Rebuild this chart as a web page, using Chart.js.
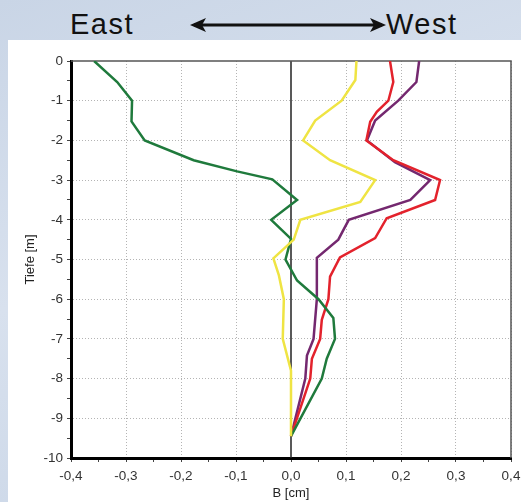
<!DOCTYPE html>
<html>
<head>
<meta charset="utf-8">
<script src="https://cdn.jsdelivr.net/npm/chart.js@4.4.0/dist/chart.umd.min.js"></script>
<style>
  html, body { margin: 0; padding: 0; }
  body {
    width: 521px; height: 502px; overflow: hidden; position: relative;
    background: linear-gradient(160deg, #c9d5e6 0%, #d8e1ee 45%, #c6d3e5 100%);
    font-family: "Liberation Sans", Arial, sans-serif;
  }
  #panel { position: absolute; left: 8px; top: 40px; width: 513px; height: 462px; background: #fff; }
  #chart { position: absolute; left: 0; top: 0; }
  .lbl { position: absolute; top: 7px; font-size: 29px; letter-spacing: 1.5px; color: #111; line-height: 34px; }
  #arrow { position: absolute; left: 188px; top: 15px; }
</style>
</head>
<body>
<div id="panel"></div>
<div class="lbl" style="left:70px">East</div>
<svg id="arrow" width="200" height="20" viewBox="0 0 200 20">
  <line x1="6" y1="10" x2="194" y2="10" stroke="#111" stroke-width="3"/>
  <path d="M2 10 L18 3 L14 10 L18 17 Z" fill="#111"/>
  <path d="M198 10 L182 3 L186 10 L182 17 Z" fill="#111"/>
</svg>
<div class="lbl" style="left:386px">West</div>
<canvas id="chart" width="521" height="502"></canvas>
<script>
// depth in m (negative = down), B in cm
var greenDepth = [0, -0.53, -1, -1.52, -2, -2.5, -2.78, -2.98, -3.5, -4.0, -4.48, -5, -5.53, -6.0, -6.47, -7.0, -7.5, -8.0, -9.45];
var greenB     = [-0.358, -0.316, -0.289, -0.29, -0.266, -0.177, -0.098, -0.034, 0.011, -0.036, 0, -0.01, 0.011, 0.05, 0.077, 0.08, 0.065, 0.056, 0];

var yellowDepth = [0, -0.48, -1, -1.5, -2, -2.5, -3, -3.55, -4.0, -4.5, -4.97, -5.4, -6, -7, -7.8, -9.45];
var yellowB     = [0.119, 0.117, 0.092, 0.044, 0.022, 0.071, 0.153, 0.126, 0.017, 0.005, -0.032, -0.022, -0.013, -0.015, 0, 0];

var redDepth = [0, -0.53, -1, -1.28, -1.53, -2, -2.5, -3, -3.5, -3.96, -4.46, -4.95, -5.43, -6.0, -6.52, -7.0, -7.5, -8, -9.45];
var redB     = [0.18, 0.186, 0.177, 0.156, 0.144, 0.137, 0.186, 0.271, 0.262, 0.174, 0.153, 0.089, 0.071, 0.068, 0.056, 0.053, 0.038, 0.035, 0];

var purpleDepth = [0, -0.53, -1, -1.5, -2, -2.55, -3, -3.5, -4.0, -4.5, -4.96, -6, -7, -7.42, -8, -9.45];
var purpleB     = [0.233, 0.228, 0.195, 0.153, 0.138, 0.189, 0.253, 0.217, 0.105, 0.086, 0.047, 0.047, 0.041, 0.029, 0.026, 0];

var xMin = -0.4, xMax = 0.4, xStep = 0.05, xMajor = 0.1;
var yMin = -10, yMax = 0, yStep = 0.5;

function points(bs, ds) {
    return ds.map(function(d, i) { return { x: bs[i], y: d }; });
}

function series(bs, ds, color) {
    return {
        data: points(bs, ds),
        borderColor: color,
        borderWidth: 2.5,
        pointRadius: 0,
        showLine: true,
        tension: 0,
        fill: false
    };
}

function isMajorX(v) {
    return Math.abs(Math.round(v / xMajor) * xMajor - v) < 1e-6;
}

function isMajorY(v) {
    return Math.abs(Math.round(v) - v) < 1e-6;
}

// frame (top/right) and zero line
var framePlugin = {
    id: 'frame',
    beforeDatasetsDraw: function(chart) {
        var ctx = chart.ctx, a = chart.chartArea;
        var x0 = chart.scales.x.getPixelForValue(0);
        ctx.save();
        ctx.strokeStyle = '#222';
        ctx.lineWidth = 1.5;
        ctx.beginPath();
        ctx.moveTo(x0, a.top);
        ctx.lineTo(x0, a.bottom);
        ctx.stroke();
        ctx.strokeStyle = '#555';
        ctx.beginPath();
        ctx.moveTo(a.left, a.top);
        ctx.lineTo(a.right, a.top);
        ctx.lineTo(a.right, a.bottom);
        ctx.stroke();
        ctx.restore();
    }
};

var tickFont = { family: '"Liberation Sans", Arial, sans-serif', size: 13.5 };

new Chart(document.getElementById('chart'), {
    type: 'scatter',
    data: {
        datasets: [
            series(yellowB, yellowDepth, '#efe443'),
            series(greenB, greenDepth, '#1f7a3c'),
            series(redB, redDepth, '#e3222c'),
            series(purpleB, purpleDepth, '#74286f')
        ]
    },
    options: {
        responsive: false,
        devicePixelRatio: 1,
        animation: false,
        layout: { padding: { left: 0, right: 10, top: 61, bottom: 0 } },
        plugins: { legend: { display: false }, tooltip: { enabled: false } },
        scales: {
            x: {
                type: 'linear',
                min: xMin, max: xMax,
                afterFit: function(s) { s.height = 44; s.paddingRight = 0; s.paddingLeft = 0; },
                ticks: {
                    stepSize: xStep, autoSkip: false, maxRotation: 0,
                    padding: 6, color: '#333', font: tickFont,
                    callback: function(v) {
                        if (!isMajorX(v)) return '';
                        if (Math.abs(v) < 1e-9) return '0,0';
                        return v.toFixed(1).replace('.', ',');
                    }
                },
                grid: {
                    color: function(c) {
                        var v = c.tick ? c.tick.value : null;
                        if (v === null || !isMajorX(v) || Math.abs(v) < 1e-9) return 'rgba(0,0,0,0)';
                        return '#b4b4b4';
                    },
                    tickColor: '#444', tickLength: 4, lineWidth: 1
                },
                border: { display: true, color: '#000', width: 3, dash: [1, 2] },
                title: {
                    display: true, text: 'B [cm]', color: '#222',
                    font: { family: tickFont.family, size: 13 }, padding: { top: 0, bottom: 1 }
                }
            },
            y: {
                type: 'linear',
                min: yMin, max: yMax,
                afterFit: function(s) { s.width = 71; },
                ticks: {
                    stepSize: yStep, autoSkip: false,
                    padding: 4, color: '#333', font: tickFont,
                    callback: function(v) {
                        if (!isMajorY(v)) return '';
                        return String(Math.round(v));
                    }
                },
                grid: {
                    color: function(c) {
                        var v = c.tick ? c.tick.value : null;
                        if (v === null || !isMajorY(v) || v === yMin || v === yMax) return 'rgba(0,0,0,0)';
                        return '#b4b4b4';
                    },
                    tickColor: '#444', tickLength: 4, lineWidth: 1
                },
                border: { display: true, color: '#000', width: 3, dash: [1, 2] },
                title: {
                    display: true, text: 'Tiefe [m]', color: '#222',
                    font: { family: tickFont.family, size: 13 }, padding: { top: 23, bottom: 0 }
                }
            }
        }
    },
    plugins: [framePlugin]
});
</script>
</body>
</html>
